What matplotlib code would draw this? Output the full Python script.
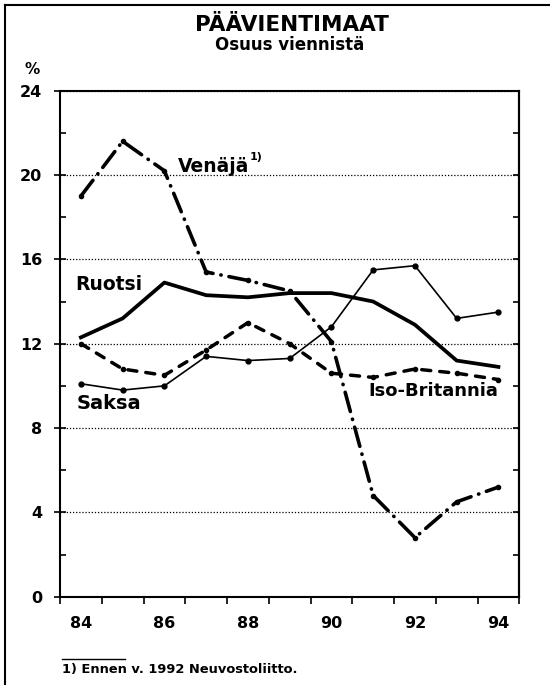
import numpy as np
import matplotlib.pyplot as plt
from matplotlib.lines import Line2D

# vuodet ja osuudet (%), luettu kuvasta
years = [84, 85, 86, 87, 88, 89, 90, 91, 92, 93, 94]
venaja = [19.0, 21.6, 20.2, 15.4, 15.0, 14.5, 12.1, 4.8, 2.8, 4.5, 5.2]
ruotsi = [12.3, 13.2, 14.9, 14.3, 14.2, 14.4, 14.4, 14.0, 12.9, 11.2, 10.9]
saksa = [10.1, 9.8, 10.0, 11.4, 11.2, 11.3, 12.8, 15.5, 15.7, 13.2, 13.5]
iso_britannia = [12.0, 10.8, 10.5, 11.7, 13.0, 12.0, 10.6, 10.4, 10.8, 10.6, 10.3]
label_years = [84, 86, 88, 90, 92, 94]
x_labels = ['84', '86', '88', '90', '92', '94']
y_ticks = [0, 4, 8, 12, 16, 20, 24]

plt.rcParams['font.family'] = 'DejaVu Sans'
plt.rcParams['font.weight'] = 'bold'

fig = plt.figure(figsize=(5.5, 6.85), dpi=100)
ax = fig.add_axes([0.1091, 0.1289, 0.8351, 0.7387])

ax.plot(years, venaja, color='black', lw=2.6, linestyle=(0, (5.5, 2.2, 0.1, 2.2)),
        dash_capstyle='round', marker='o', ms=3)
ax.plot(years, iso_britannia, color='black', lw=2.5, linestyle=(0, (2.6, 2.6)),
        dash_capstyle='round', marker='o', ms=3)
ax.plot(years, ruotsi, color='black', lw=2.7, solid_joinstyle='round')
ax.plot(years, saksa, color='black', lw=1.2, marker='o', ms=3.5)

# sarjojen nimet
ax.text(86.33, 20.4, 'Venäjä', fontsize=13.5, ha='left', va='center')
ax.text(88.05, 20.85, '1)', fontsize=8, ha='left', va='center')
ax.text(83.86, 14.8, 'Ruotsi', fontsize=13.5, ha='left', va='center')
ax.text(83.9, 9.15, 'Saksa', fontsize=14, ha='left', va='center')
ax.text(90.88, 9.75, 'Iso-Britannia', fontsize=13, ha='left', va='center')

ax.set_xlim(83.5, 94.5)
ax.set_ylim(0, 24)

ax.set_xticks(np.arange(83.5, 95, 1))
ax.set_xticklabels([])
ax.set_xticks(label_years, minor=True)
ax.set_xticklabels(x_labels, minor=True)
ax.tick_params(axis='x', which='major', direction='out', length=5, width=1.2)
ax.tick_params(axis='x', which='minor', length=0, pad=14, labelsize=11.5)

ax.set_yticks(y_ticks)
ax.set_yticks(np.arange(2, 24, 4), minor=True)
ax.tick_params(axis='y', which='major', direction='inout', length=8.5, width=1.2,
               pad=8.5, labelsize=11.5)
ax.tick_params(axis='y', which='minor', direction='in', length=4, width=1.2)

sec = ax.secondary_yaxis('right')
sec.set_yticks(np.arange(0, 25, 2))
sec.set_yticklabels([])
sec.tick_params(direction='in', length=4, width=1.2)
sec.spines['right'].set_linewidth(1.5)

ax.grid(axis='y', which='major', color='black', lw=0.9, linestyle=(0, (1, 1.5)))
for s in ax.spines.values():
    s.set_linewidth(1.5)

# otsikot
fig.text(0.531, 0.9635, 'PÄÄVIENTIMAAT', ha='center', va='center', fontsize=15.5)
fig.text(0.526, 0.934, 'Osuus viennistä', ha='center', va='center', fontsize=12)
fig.text(0.058, 0.898, '%', ha='center', va='center', fontsize=11)

# alaviite
fig.text(0.113, 0.022, '1) Ennen v. 1992 Neuvostoliitto.', ha='left', va='center', fontsize=9.4)
fig.add_artist(Line2D([0.113, 0.227], [0.038, 0.038], transform=fig.transFigure,
                      color='black', lw=1))

# kehys
fig.add_artist(Line2D([0.009, 0.009], [0, 0.993], transform=fig.transFigure, color='black', lw=1.5))
fig.add_artist(Line2D([0.009, 1], [0.993, 0.993], transform=fig.transFigure, color='black', lw=1.5))

fig.savefig('out.png', dpi=100)
